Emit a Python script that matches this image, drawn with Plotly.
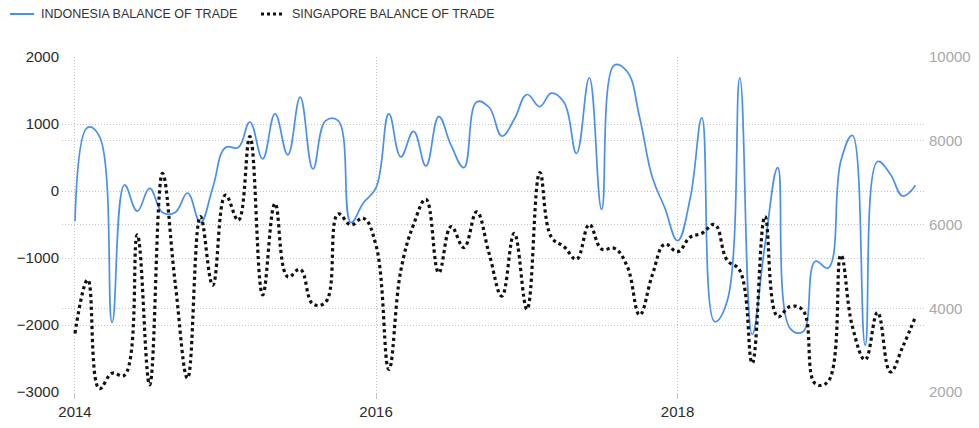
import pandas as pd
import plotly.graph_objects as go

months = pd.date_range("2014-01-01", "2019-08-01", freq="MS")

indonesia = [
    -450, 950, 820, -1960, 90, -300, 40, -320, -320, -30, -470, 50,
    650, 650, 1030, 480, 1150, 540, 1400, 330, 1050, 1050, -470, -180,
    50, 1150, 510, 890, 375, 1110, 680, 350, 1330, 1250, 820, 1070,
    1440, 1260, 1460, 1320, 560, 1690, -275, 1880, 1780, 1100, 200, -250,
    -740, -100, 1090, -1950, -1650, 1690, -2140, -800, 350, -2050, -2100, -1050,
    -1150, 450, 830, -2300, 440, 250, -75, 85,
]

singapore = [
    3400, 4680, 2080, 2450, 2400, 5750, 2170, 7220, 4600, 2330, 6190, 4550,
    6700, 6100, 8100, 4320, 6500, 4750, 4930, 4100, 4150, 6250, 5990, 6150,
    5500, 2540, 4900, 6000, 6600, 4850, 5950, 5450, 6300, 5310, 4290, 5790,
    3975, 7240, 5700, 5470, 5170, 6000, 5410, 5430, 5000, 3840, 4800, 5530,
    5350, 5700, 5790, 6000, 5150, 4900, 2690, 6190, 3800, 4040, 3950, 2200,
    2250, 5270, 3560, 2770, 3900, 2480, 3080, 3800,
]

series_names = ["INDONESIA BALANCE OF TRADE", "SINGAPORE BALANCE OF TRADE"]
left_ticks = [-3000, -2000, -1000, 0, 1000, 2000]
right_ticks = [2000, 4000, 6000, 8000, 10000]
right_tick_text = ["2000", "4000", "6000", "8000", "10000"]
x_tick_dates = ["2014-01-01", "2016-01-01", "2018-01-01"]
x_tick_text = ["2014", "2016", "2018"]

BLUE = "#4a8ff0"
BLACK = "#111111"
GRID = "#c4c4c4"
GRID_DASH = "1px,2px"
FONT = "Liberation Sans, Arial, sans-serif"

fig = go.Figure()
fig.add_trace(go.Scatter(
    x=months, y=indonesia, name=series_names[0], mode="lines",
    line=dict(color=BLUE, width=1.7, shape="spline", smoothing=1.2),
    yaxis="y", showlegend=False,
))
fig.add_trace(go.Scatter(
    x=months, y=singapore, name=series_names[1], mode="lines",
    line=dict(color=BLACK, width=3.2, dash="dot", shape="spline", smoothing=1.2),
    yaxis="y2", showlegend=False,
))

W, H = 979, 428
L, R, T, B = 62, 54, 57, 36
pw, ph = W - L - R, H - T - B

def px(x):
    return (x - L) / pw

def py(y):
    return (H - B - y) / ph

# manual legend
fig.add_shape(type="line", xref="paper", yref="paper",
              x0=px(10), x1=px(34), y0=py(14), y1=py(14),
              line=dict(color=BLUE, width=2))
fig.add_shape(type="line", xref="paper", yref="paper",
              x0=px(261), x1=px(283), y0=py(14), y1=py(14),
              line=dict(color=BLACK, width=3, dash="dot"))
fig.add_annotation(xref="paper", yref="paper", x=px(39), y=py(14),
                   text=series_names[0], showarrow=False, xanchor="left", yanchor="middle",
                   font=dict(family=FONT, size=12.5, color="#333333"))
fig.add_annotation(xref="paper", yref="paper", x=px(290), y=py(14),
                   text=series_names[1], showarrow=False, xanchor="left", yanchor="middle",
                   font=dict(family=FONT, size=12.5, color="#333333"))

fig.update_layout(
    width=W, height=H,
    margin=dict(l=L, r=R, t=T, b=B, pad=0, autoexpand=False),
    paper_bgcolor="white", plot_bgcolor="white",
    font=dict(family=FONT, size=15, color="#2a2a2a"),
    xaxis=dict(
        type="date", range=["2013-11-30 12:00", "2019-08-24"],
        tickvals=x_tick_dates, ticktext=x_tick_text, automargin=False,
        showgrid=True, gridcolor=GRID, griddash=GRID_DASH, gridwidth=1,
        ticks="outside", ticklen=6, tickcolor=GRID, tickwidth=1,
        showline=False, zeroline=False,
        tickfont=dict(family=FONT, size=15, color="#2a2a2a"),
    ),
    yaxis=dict(
        range=[-3000, 2000], tickvals=left_ticks, automargin=False,
        showgrid=True, gridcolor=GRID, griddash=GRID_DASH, gridwidth=1,
        zeroline=False, showline=False, ticks="",
        ticklabelstandoff=2,
        tickfont=dict(family=FONT, size=15, color="#2a2a2a"),
    ),
    yaxis2=dict(
        range=[2000, 10000], tickvals=right_ticks, ticktext=right_tick_text,
        overlaying="y", side="right", automargin=False,
        showgrid=True, gridcolor=GRID, griddash=GRID_DASH, gridwidth=1,
        zeroline=False, showline=False, ticks="",
        ticklabelstandoff=3,
        tickfont=dict(family=FONT, size=15, color="#a9a9a9"),
    ),
)

fig.write_html(
    "out.html",
    config={"displayModeBar": False},
    post_script="document.body.style.margin='0px';document.body.style.padding='0px';",
)
